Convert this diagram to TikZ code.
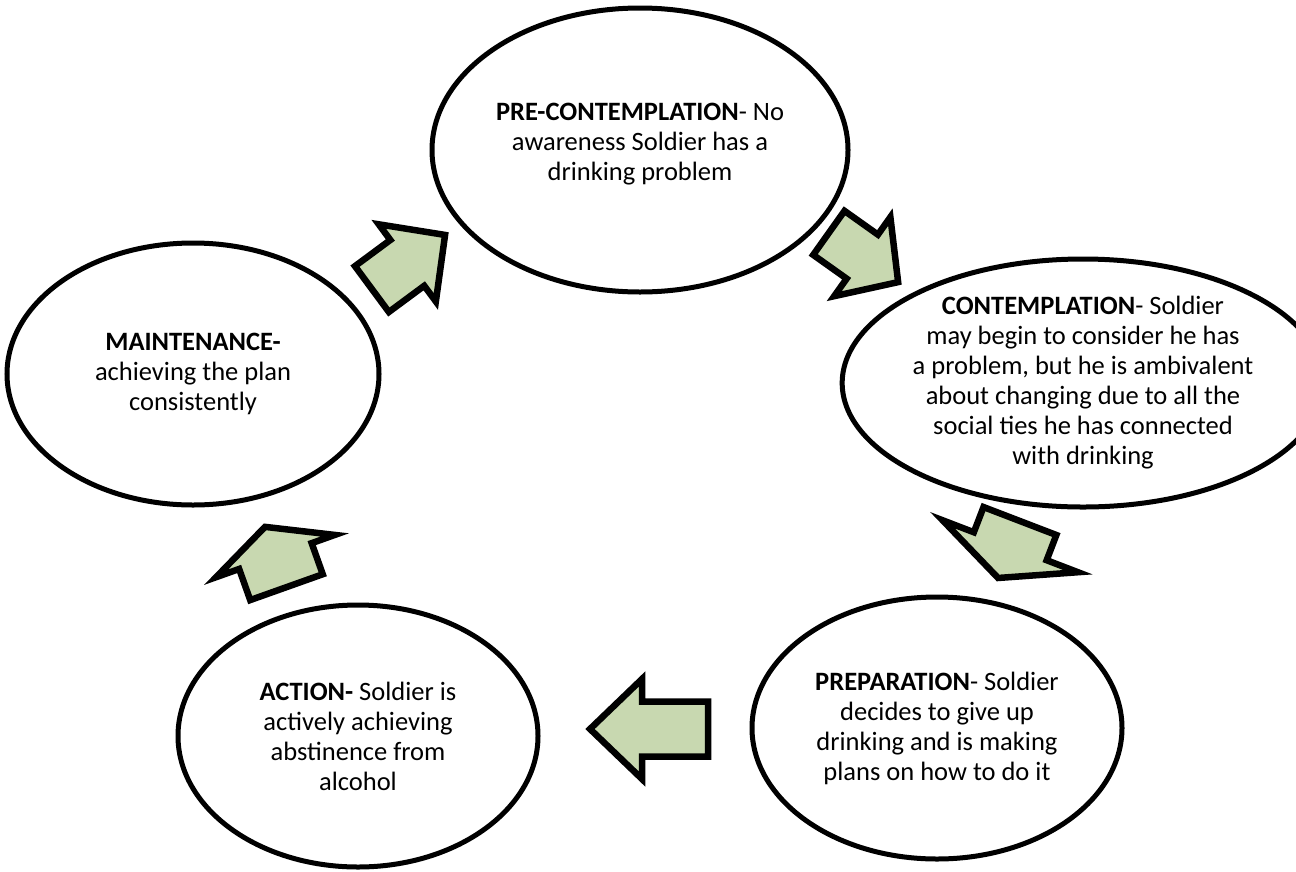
\documentclass[tikz,border=0pt]{standalone}
\usepackage{fontspec}
\setmainfont{Carlito}
\usetikzlibrary{shapes.geometric}
\definecolor{arrowgreen}{RGB}{200,216,176}
\tikzset{
  stage/.style={ellipse, draw=black, line width=5pt, fill=white, align=center,
    inner sep=0pt, font=\fontsize{26.5}{30}\selectfont},
  blockarrow/.style={draw=black, fill=arrowgreen, line width=6.5pt, line join=miter},
}
% #1 centre, #2 direction angle (image, clockwise), #3 length, #4 shaft width, #5 head width, #6 head length
\newcommand\stagearrow[6]{%
  \begin{scope}[shift={(#1)}, rotate=-#2]
    \draw[blockarrow] ({-#3/2},{-#4/2}) -- ({#3/2-#6},{-#4/2}) -- ({#3/2-#6},{-#5/2})
      -- ({#3/2},0) -- ({#3/2-#6},{#5/2}) -- ({#3/2-#6},{#4/2}) -- ({-#3/2},{#4/2}) -- cycle;
  \end{scope}}
\begin{document}
\begin{tikzpicture}[x=1pt,y=-1pt]
\fill[white] (0,0) rectangle (1296,871);
\useasboundingbox (0,0) rectangle (1296,871);

\node[stage, minimum width=416pt, minimum height=284pt] (pre) at (640,150)
  {\textbf{PRE-CONTEMPLATION}- No\\awareness Soldier has a\\drinking problem\\[-14pt]};
\node[stage, minimum width=414pt, minimum height=248pt] (con) at (1083,383)
  {\textbf{CONTEMPLATION}- Soldier\\may begin to consider he has\\a problem, but he is ambivalent\\about changing due to all the\\social ties he has connected\\with drinking};
\node[stage, minimum width=370pt, minimum height=262pt] (prep) at (937,728)
  {\textbf{PREPARATION}- Soldier\\decides to give up\\drinking and is making\\plans on how to do it};
\node[stage, minimum width=360pt, minimum height=262pt] (act) at (358,736)
  {\textbf{ACTION-} Soldier is\\actively achieving\\abstinence from\\alcohol};
\node[stage, minimum width=372pt, minimum height=262pt] (main) at (193,374)
  {\textbf{MAINTENANCE-}\\achieving the plan\\consistently};

\stagearrow{408.5,262}{-36.5}{91}{57}{96}{47}
\stagearrow{863.5,257.5}{35.4}{85}{54}{97}{44}
\stagearrow{1009,549.5}{111}{61}{78}{145}{34}
\stagearrow{649,729}{180}{118}{55}{100}{52}
\stagearrow{275.75,557}{-109.6}{64}{77}{126}{31}
\end{tikzpicture}
\end{document}
